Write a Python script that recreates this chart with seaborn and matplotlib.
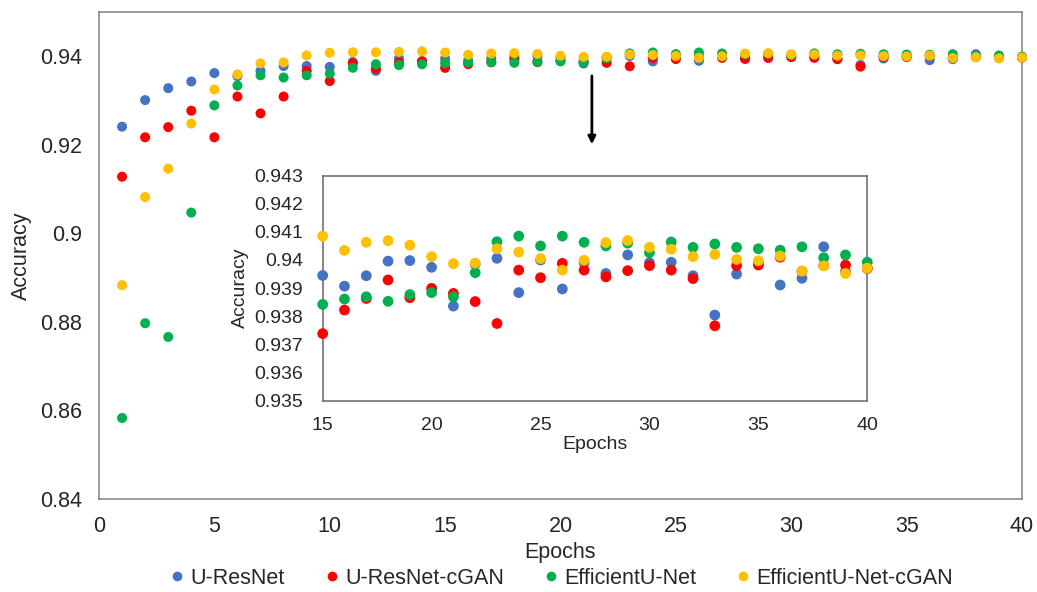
import numpy as np
import pandas as pd
import seaborn as sns
import matplotlib
matplotlib.use("Agg")
import matplotlib.pyplot as plt
from matplotlib.lines import Line2D
from matplotlib.ticker import MultipleLocator, FuncFormatter

# Validation accuracy per epoch for each model
epochs = list(range(1, 41))

u_resnet = [0.9241, 0.9301, 0.9328, 0.9343, 0.9362, 0.9355, 0.9367, 0.9378, 0.9378, 0.9376,
            0.9387, 0.9367, 0.9395, 0.9388, 0.93945, 0.93907, 0.93944, 0.93996, 0.93998, 0.93974,
            0.93836, 0.93985, 0.94006, 0.93884, 0.9400, 0.93897, 0.9399, 0.93952, 0.94018, 0.9399,
            0.93992, 0.93944, 0.93804, 0.9395, 0.9399, 0.93911, 0.93935, 0.94047, 0.9396, 0.9397]

u_resnet_cgan = [0.9128, 0.9217, 0.9240, 0.9277, 0.9217, 0.9309, 0.9271, 0.9309, 0.9367, 0.9344,
                 0.9384, 0.9372, 0.9386, 0.9389, 0.93738, 0.93822, 0.93863, 0.93929, 0.93866, 0.93899,
                 0.93881, 0.93852, 0.93774, 0.93964, 0.93937, 0.93988, 0.93964, 0.9394, 0.93962, 0.9398,
                 0.93964, 0.93934, 0.93766, 0.9398, 0.93982, 0.9401, 0.9396, 0.9398, 0.93982, 0.9397]

efficient_unet = [0.8583, 0.8797, 0.8766, 0.9047, 0.9289, 0.9334, 0.9357, 0.9352, 0.9357, 0.9361,
                  0.9374, 0.9382, 0.9380, 0.9382, 0.93842, 0.93861, 0.93869, 0.93853, 0.93877, 0.93884,
                  0.93869, 0.93955, 0.94065, 0.94085, 0.9405, 0.94085, 0.94063, 0.9405, 0.9406, 0.94026,
                  0.94064, 0.94045, 0.94057, 0.94045, 0.9404, 0.94035, 0.94047, 0.94008, 0.94018, 0.93992]

efficient_unet_cgan = [0.8883, 0.9082, 0.9146, 0.9248, 0.9325, 0.9359, 0.9384, 0.9386, 0.9402, 0.9408,
                       0.9409, 0.9409, 0.9410, 0.9411, 0.94085, 0.94034, 0.94063, 0.94069, 0.94053, 0.94012,
                       0.93987, 0.93989, 0.9404, 0.94028, 0.94005, 0.93964, 0.93999, 0.94062, 0.94069, 0.94045,
                       0.94038, 0.94012, 0.9402, 0.94002, 0.93997, 0.94014, 0.9396, 0.93979, 0.93952, 0.93971]

models = ["U-ResNet", "U-ResNet-cGAN", "EfficientU-Net", "EfficientU-Net-cGAN"]
colors = ["#4472C4", "#FF0000", "#00B050", "#FFC000"]

series = [u_resnet, u_resnet_cgan, efficient_unet, efficient_unet_cgan]
df = pd.concat(
    [pd.DataFrame({"Epochs": epochs, "Accuracy": vals, "Model": name})
     for name, vals in zip(models, series)],
    ignore_index=True,
)
palette = dict(zip(models, colors))

sns.set_style("white")
plt.rcParams["font.family"] = ["Liberation Sans", "DejaVu Sans"]

W, H = 1037, 592
fig = plt.figure(figsize=(W / 100, H / 100), dpi=100)

spine_col = "#808080"
txt_col = "#262626"

def px_axes(left, top, right, bottom):
    return [left / W, 1 - bottom / H, (right - left) / W, (bottom - top) / H]

fmt = FuncFormatter(lambda v, p: f"{v:g}")

# Main panel
ax = fig.add_axes(px_axes(99, 12, 1022, 499))
sns.scatterplot(data=df, x="Epochs", y="Accuracy", hue="Model", palette=palette,
                s=52, linewidth=0, legend=False, ax=ax, clip_on=False, zorder=3)
ax.set_xlim(0, 40)
ax.set_ylim(0.84, 0.95)
ax.set_xticks(np.arange(0, 41, 5))
ax.set_yticks(np.arange(0.84, 0.9401, 0.02))
ax.xaxis.set_minor_locator(MultipleLocator(1))
ax.yaxis.set_minor_locator(MultipleLocator(0.004))
ax.yaxis.set_major_formatter(fmt)
ax.tick_params(which="both", direction="in", length=4.5, width=1, color=spine_col,
               labelsize=15.5, labelcolor=txt_col)
ax.tick_params(axis="x", which="both", top=False, pad=12)
ax.tick_params(axis="y", which="both", right=False, pad=12)
for sp in ax.spines.values():
    sp.set_color(spine_col)
    sp.set_linewidth(1.1)
ax.set_xlabel("Epochs", fontsize=15.5, color=txt_col, labelpad=4)
ax.set_ylabel("Accuracy", fontsize=15.5, color=txt_col, labelpad=6)

# Arrow pointing from the plateau down to the zoomed panel
ax.annotate("", xy=(21.36, 0.9195), xytext=(21.36, 0.9362),
            arrowprops=dict(arrowstyle="-|>", color="black", lw=2, mutation_scale=11))

# Zoomed panel for epochs 15-40
ins = fig.add_axes(px_axes(322.7, 175.7, 867.3, 400.5))
ins.set_facecolor("white")
late = df[df["Epochs"] >= 15]
sns.scatterplot(data=late, x="Epochs", y="Accuracy", hue="Model", palette=palette,
                s=60, linewidth=0, legend=False, ax=ins, clip_on=False, zorder=3)
ins.set_xlim(15, 40)
ins.set_ylim(0.935, 0.943)
ins.set_xticks(np.arange(15, 41, 5))
ins.set_yticks(np.arange(0.935, 0.94301, 0.001))
ins.xaxis.set_minor_locator(MultipleLocator(1))
ins.yaxis.set_minor_locator(MultipleLocator(0.0002))
ins.yaxis.set_major_formatter(fmt)
ins.tick_params(which="both", direction="in", length=4.5, width=1, color="#555555",
                labelsize=14, labelcolor=txt_col)
ins.tick_params(axis="x", which="both", top=False, pad=12)
ins.tick_params(axis="y", which="both", right=False, pad=14)
for sp in ins.spines.values():
    sp.set_color("#666666")
    sp.set_linewidth(1.1)
ins.set_xlabel("Epochs", fontsize=14, color=txt_col, labelpad=1)
ins.set_ylabel("Accuracy", fontsize=14, color=txt_col, labelpad=4)

handles = [Line2D([0], [0], marker="o", linestyle="", markersize=7,
                  markerfacecolor=c, markeredgewidth=0, label=m)
           for m, c in zip(models, colors)]
fig.legend(handles=handles, loc="center", bbox_to_anchor=(562 / W, 1 - 578 / H), ncol=4,
           frameon=False, fontsize=15.5, handlelength=0.6, handletextpad=0.3,
           columnspacing=1.9, labelcolor=txt_col)

fig.savefig("out.png", dpi=100, facecolor="white")
